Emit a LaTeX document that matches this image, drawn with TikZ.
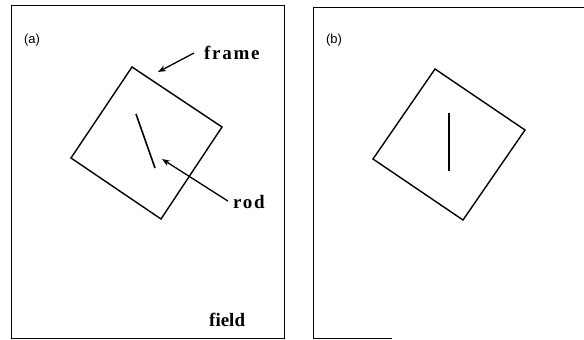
\documentclass[tikz,border=0pt]{standalone}
\usepackage{fontspec}
\setmainfont{Liberation Serif}
\newfontfamily\lblfont{Liberation Sans}
\newfontfamily\spacedfont[LetterSpace=9]{Liberation Serif}
\usetikzlibrary{arrows.meta}
\begin{document}
\begin{tikzpicture}[x=1pt,y=-1pt,
  panel/.style={line width=1pt},
  sq/.style={line width=1.4pt,line join=miter},
  rodline/.style={line width=1.6pt},
  arr/.style={line width=1.3pt,-{Stealth[length=8pt,width=6pt]}},
  plabel/.style={font=\lblfont\fontsize{13}{15}\selectfont,inner sep=0pt},
  tlabel/.style={font=\spacedfont\fontsize{19}{22}\selectfont\bfseries,inner sep=0pt},
  flabel/.style={font=\fontsize{19}{22}\selectfont\bfseries,inner sep=0pt}]
\useasboundingbox (0,0) rectangle (584,340);
% left panel
\draw[panel] (11,5) rectangle (284,338);
\node[plabel] (pa) at (32,40) {(a)};
\coordinate (a1) at (132,67);
\coordinate (a2) at (222,127);
\coordinate (a3) at (161,219);
\coordinate (a4) at (71,158);
\draw[sq] (a1) -- (a2) -- (a3) -- (a4) -- cycle;
\coordinate (ar1) at (136,114);
\coordinate (ar2) at (155,168);
\draw[rodline] (ar1) -- (ar2);
\node[tlabel,anchor=west] (frame) at (204,53) {frame};
\coordinate (fhead) at (158,72);
\draw[arr] ([xshift=-10pt]frame.west) -- (fhead);
\node[tlabel,anchor=west] (rod) at (233,202) {rod};
\coordinate (rhead) at (162,159);
\draw[arr] ([xshift=-5pt,yshift=-6pt]rod.north west) -- (rhead);
\node[flabel,anchor=west] (field) at (209,320) {field};
% right panel
\draw[panel] (584,7) -- (313,7) -- (313,338) -- (392,338);
\node[plabel] (pb) at (334,40) {(b)};
\coordinate (b1) at (435,69);
\coordinate (b2) at (525,130);
\coordinate (b3) at (463,220);
\coordinate (b4) at (373,159);
\draw[sq] (b1) -- (b2) -- (b3) -- (b4) -- cycle;
\coordinate (br1) at (449,113);
\coordinate (br2) at (449,171);
\draw[rodline] (br1) -- (br2);
\end{tikzpicture}
\end{document}
